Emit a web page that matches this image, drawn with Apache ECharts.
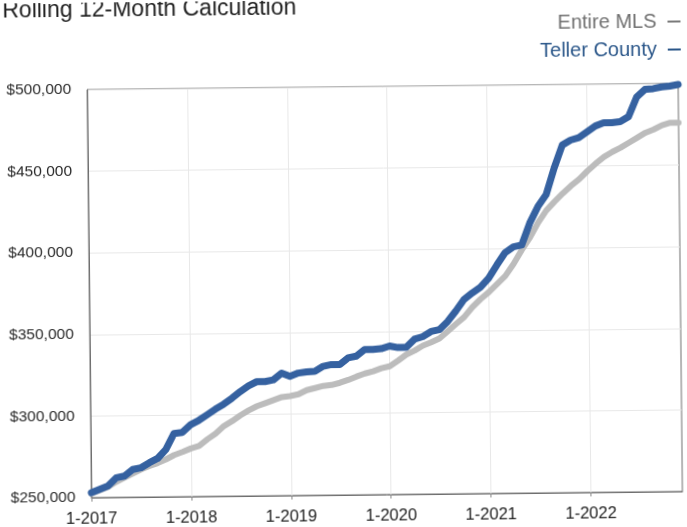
<!DOCTYPE html>
<html>
<head>
<meta charset="utf-8">
<title>Rolling 12-Month Calculation</title>
<script src="https://cdn.jsdelivr.net/npm/echarts@6/dist/echarts.min.js"></script>
<style>
  html, body { margin: 0; padding: 0; background: #fff; overflow: hidden; }
  #chart { width: 687px; height: 527px; transform: rotate(-0.6deg); transform-origin: 50% 50%; }
</style>
</head>
<body>
<div id="chart"></div>
<script>
// Months 1-2017 .. 12-2022, labelled "M-YYYY"
const years = [2017, 2018, 2019, 2020, 2021, 2022];
const months = [];
years.forEach(function (y) {
  for (let m = 1; m <= 12; m++) months.push(m + '-' + y);
});

// Rolling 12-month median sales price, Entire MLS
const entireMLS = [
  252500, 254500, 256500, 259500, 262000, 264500, 267000, 269000, 270800, 273000, 275600, 277400,
  279500, 281000, 285000, 288500, 293000, 296000, 299500, 302500, 305000, 306800, 308600, 310400,
  311000, 312000, 314500, 315700, 317000, 317500, 318800, 320500, 322500, 324300, 325600, 327400,
  328600, 332000, 335600, 338000, 341000, 343000, 345300, 349600, 354000, 358200, 364300, 369200,
  373400, 378300, 383200, 390500, 399000, 406500, 415600, 423000, 428400, 433400, 438000, 442000,
  447000, 451500, 455500, 458500, 461000, 464000, 467000, 470000, 472000, 474500, 476000, 476000
];

// Rolling 12-month median sales price, Teller County
const tellerCounty = [
  253000, 255000, 257000, 262000, 263000, 267000, 268000, 271000, 273600, 279000, 288800, 289400,
  294000, 296700, 300000, 303400, 306400, 310000, 314000, 317500, 320000, 320000, 321000, 325000,
  323000, 325000, 325700, 326000, 329000, 330000, 330000, 334000, 335000, 339000, 339000, 339400,
  341000, 340000, 340000, 345000, 346500, 349600, 350700, 355600, 362000, 369000, 373000, 376500,
  382000, 390000, 397500, 401000, 402000, 415500, 425500, 432700, 449000, 463000, 466000, 467500,
  471000, 474500, 476400, 476400, 477000, 480000, 492000, 496600, 497000, 498000, 498500, 499400
];

const yMin = 250000, yMax = 500000, yStep = 50000;
const titleText = 'Rolling 12-Month Calculation';
const seriesNames = ['Entire MLS', 'Teller County'];

const FONT = '"Liberation Sans", Arial, Helvetica, sans-serif';
const GRAY = '#bcbcbc';
const BLUE = '#3561a0';

const chart = echarts.init(document.getElementById('chart'), null, { renderer: 'canvas' });

function money(v) {
  return '$' + v.toLocaleString('en-US');
}

chart.setOption({
  backgroundColor: '#ffffff',
  animation: false,
  title: {
    text: titleText,
    left: 0,
    top: -9,
    textStyle: { fontFamily: FONT, fontSize: 23, fontWeight: 'normal', color: '#222' }
  },
  legend: {
    orient: 'vertical',
    right: -1,
    top: 10,
    align: 'right',
    icon: 'rect',
    itemWidth: 13,
    itemHeight: 2,
    itemGap: 8,
    textStyle: { fontFamily: FONT, fontSize: 20, padding: [0, 6, 0, 0] },
    data: [
      { name: seriesNames[0], itemStyle: { color: '#7a7a7a' }, textStyle: { color: '#707070' } },
      { name: seriesNames[1], itemStyle: { color: '#2a5689' }, textStyle: { color: '#2a5689' } }
    ]
  },
  grid: {
    left: 89, right: 7, top: 87, bottom: 32,
    show: true, borderColor: '#6e6e6e', borderWidth: 1, backgroundColor: 'transparent'
  },
  xAxis: {
    type: 'category',
    data: months,
    boundaryGap: false,
    axisLine: { show: true, lineStyle: { color: '#6e6e6e', width: 1 } },
    axisTick: { show: true, interval: 11, length: 4, lineStyle: { color: '#888' } },
    axisLabel: { interval: 11, margin: 13, fontFamily: FONT, fontSize: 16.5, color: '#222' },
    splitLine: { show: true, interval: 11, lineStyle: { color: '#e8e8e8', width: 1 } }
  },
  yAxis: {
    type: 'value',
    min: yMin, max: yMax, interval: yStep,
    axisLine: { show: true, lineStyle: { color: '#6e6e6e', width: 1 } },
    axisTick: { show: false },
    axisLabel: { margin: 16, fontFamily: FONT, fontSize: 15.5, color: '#2a2a2a', formatter: money },
    splitLine: { show: true, lineStyle: { color: '#e8e8e8', width: 1 } }
  },
  series: [
    {
      name: seriesNames[0],
      type: 'line',
      data: entireMLS,
      showSymbol: false,
      clip: false,
      z: 2,
      lineStyle: { color: GRAY, width: 6, join: 'round', cap: 'round' },
      itemStyle: { color: GRAY }
    },
    {
      name: seriesNames[1],
      type: 'line',
      data: tellerCounty,
      showSymbol: false,
      clip: false,
      z: 3,
      lineStyle: { color: BLUE, width: 7, join: 'round', cap: 'round' },
      itemStyle: { color: BLUE }
    }
  ]
});
</script>
</body>
</html>
